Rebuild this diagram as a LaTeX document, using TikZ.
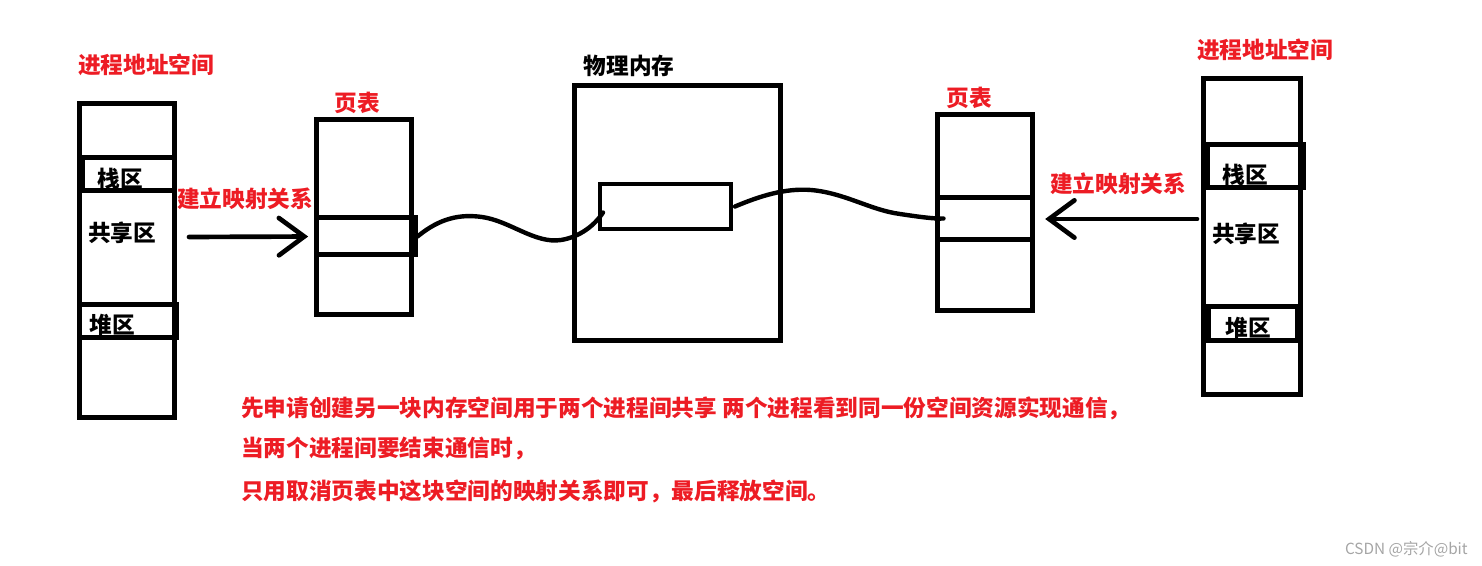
\documentclass[tikz,border=0pt]{standalone}
\usepackage{xcolor}
\usepackage{fontspec}
\usepackage{tikz}
\usetikzlibrary{arrows.meta,calc}
\newfontfamily\cjk{Noto Sans CJK SC}
\definecolor{paintred}{RGB}{237,28,36}
\definecolor{markgray}{RGB}{165,165,165}

\begin{document}
\begin{tikzpicture}[x=0.75pt,y=0.75pt,yscale=-1,xscale=1,
  box/.style={draw,line width=3.75pt,inner sep=0pt,rectangle},
  lbl/.style={inner sep=0.75pt,font=\cjk\bfseries\fontsize{17}{20}\selectfont},
  redlbl/.style={lbl,text=paintred},
  wire/.style={line width=3.3pt,line cap=round},
  arr/.style={line width=3.5pt,line cap=round,-{Straight Barb[length=19pt,width=28pt,line cap=round]}}]
\useasboundingbox (0,0) rectangle (1482,566);

%Shape: Rectangle [left process]
\draw (126.5,261) node (lproc) [box,minimum width=71.25pt,minimum height=235.5pt] {};
%Shape: Rectangle [left stack]
\draw (128,174.5) node (lstack) [box,minimum width=69pt,minimum height=24.75pt] {};
%Shape: Rectangle [left heap]
\draw (127.5,321.5) node (lheap) [box,minimum width=72.75pt,minimum height=24.75pt] {};
%Shape: Rectangle [left page table]
\draw (363.5,217.5) node (lpt) [box,minimum width=71.25pt,minimum height=146.25pt] {};
%Shape: Rectangle [left entry]
\draw (365.5,236.5) node (lent) [box,minimum width=74.25pt,minimum height=27.75pt] {};
%Shape: Rectangle [physical memory]
\draw (677,213) node (mem) [box,minimum width=154.5pt,minimum height=191.25pt] {};
%Shape: Rectangle [shared block]
\draw (665.5,206.5) node (blk) [box,line width=3pt,minimum width=98.25pt,minimum height=33.75pt] {};
%Shape: Rectangle [right page table]
\draw (984.5,213) node (rpt) [box,minimum width=71.25pt,minimum height=147pt] {};
%Shape: Rectangle [right entry]
\draw (984.5,218.5) node (rent) [box,minimum width=71.25pt,minimum height=31.5pt] {};
%Shape: Rectangle [right process]
\draw (1251.5,237) node (rproc) [box,minimum width=72.75pt,minimum height=237pt] {};
%Shape: Rectangle [right stack]
\draw (1255,166.5) node (rstack) [box,minimum width=72pt,minimum height=32.25pt] {};
%Shape: Rectangle [right heap]
\draw (1252.5,324) node (rheap) [box,minimum width=66.75pt,minimum height=25.5pt] {};

%Straight Lines [left mapping]
\coordinate (lsrc) at (189,237);
\draw [arr,shorten >=4pt] (lsrc) -- (lent.west);
%Straight Lines [right mapping]
\coordinate (rsrc) at (1197,219);
\draw [arr,shorten >=8pt] (rsrc) -- (rent.east |- rsrc);

%Curve Lines [left wave]
\draw [wire] (lent.east) .. controls (440,218) and (460,214) .. (482,217) .. controls (510,221) and (535,244) .. (561,240) .. controls (580,237) and (595,225) .. ($(blk.west)+(5,6)$);
%Curve Lines [right wave]
\draw [wire] ($(blk.east)+(2,0)$) .. controls (760,196) and (785,188) .. (811,190) .. controls (845,193) and (870,210) .. (900,214) .. controls (920,217) and (935,219) .. ($(rent.west)+(9,0)$);

% Text Node
\draw (146,65) node (ltitle) [redlbl] {进程地址空间};
% Text Node
\draw (1265,50) node (rtitle) [redlbl] {进程地址空间};
% Text Node
\draw (357,103) node (lpttitle) [redlbl] {页表};
% Text Node
\draw (969,98) node (rpttitle) [redlbl] {页表};
% Text Node
\draw (629,66) node (memtitle) [lbl] {物理内存};
% Text Node
\draw (245,199) node (lmap) [redlbl] {建立映射关系};
% Text Node
\draw (1118,184) node (rmap) [redlbl] {建立映射关系};
% Text Node
\draw (120,179) node (lstacktxt) [lbl] {栈区};
% Text Node
\draw (122,233) node (lsharetxt) [lbl] {共享区};
% Text Node
\draw (112,325) node (lheaptxt) [lbl] {堆区};
% Text Node
\draw (1245,175) node (rstacktxt) [lbl] {栈区};
% Text Node
\draw (1246,234) node (rsharetxt) [lbl] {共享区};
% Text Node
\draw (1248,328) node (rheaptxt) [lbl] {堆区};
% Text Node
\draw (240,408) node (note1) [redlbl,anchor=west] {先申请创建另一块内存空间用于两个进程间共享 两个进程看到同一份空间资源实现通信，};
% Text Node
\draw (240,449) node (note2) [redlbl,anchor=west] {当两个进程间要结束通信时，};
% Text Node
\draw (240,491) node (note3) [redlbl,anchor=west] {只用取消页表中这块空间的映射关系即可，最后释放空间。};
% Text Node
\draw (1468,549) node (mark) [anchor=east,inner sep=0pt,text=markgray,font=\cjk\fontsize{11.5}{13}\selectfont] {CSDN @宗介@bit};

\end{tikzpicture}
\end{document}
